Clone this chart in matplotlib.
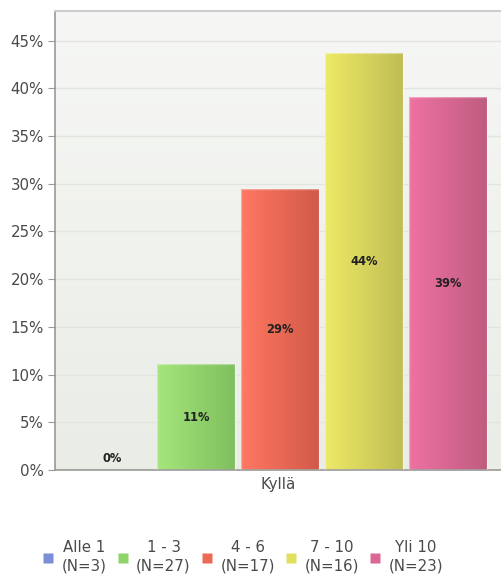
import numpy as np
import matplotlib
matplotlib.use("Agg")
import matplotlib.pyplot as plt
from matplotlib.colors import LinearSegmentedColormap
from matplotlib.ticker import FuncFormatter, MultipleLocator

plt.rcParams["font.family"] = ["DejaVu Sans"]

# ryhmät ja osuudet (%)
ryhmat = ["Alle 1", "1 - 3", "4 - 6", "7 - 10", "Yli 10"]
n_arvot = [3, 27, 17, 16, 23]
osuudet = [0.0, 11.1, 29.4, 43.75, 39.1]
kategoria = "Kyllä"

# värit: vasen (vaalea) ja oikea (tumma) reuna
vari_vasen = ["#8a9ce0", "#a5e67c", "#ff7862", "#eeea66", "#ee72a2"]
vari_oikea = ["#6f82c8", "#7fbf5e", "#d25a48", "#c0bd55", "#c05c80"]
vari_selite = ["#7b8fd6", "#8fd46a", "#ec6a55", "#e2df5e", "#dd6794"]

fig = plt.figure(figsize=(5.01, 5.77), dpi=100)
ax = fig.add_axes([55 / 501, 107 / 577, 446 / 501, 459 / 577])

ymax = 48.1
ax.set_xlim(0, 1)
ax.set_ylim(0, ymax)

# taustan liukuväri
tausta = LinearSegmentedColormap.from_list("tausta", ["#eaede6", "#f6f7f5"])
ax.imshow(np.linspace(0, 1, 256).reshape(-1, 1), cmap=tausta, aspect="auto",
          extent=[0, 1, 0, ymax], origin="lower", zorder=0)

for y in np.arange(5, 46, 5):
    ax.axhline(y, color="#e2e4e0", lw=1, zorder=1)

leveys = 78 / 446
vali = 84 / 446
keski = 0.5 + 2 / 446
for i, (arvo, v1, v2) in enumerate(zip(osuudet, vari_vasen, vari_oikea)):
    x0 = keski + (i - 2) * vali - leveys / 2
    bars = ax.bar(x0, arvo, width=leveys, align="edge", color="none",
                  edgecolor="none", zorder=2)
    if arvo > 0:
        cmap = LinearSegmentedColormap.from_list(f"c{i}", [v1, v2])
        im = ax.imshow(np.linspace(0, 1, 256).reshape(1, -1), cmap=cmap,
                       aspect="auto", extent=[x0, x0 + leveys, 0, arvo], zorder=2)
        im.set_clip_path(bars[0])
        ax.bar(x0, arvo, width=leveys, align="edge", color="none",
               edgecolor=(1, 1, 1, 0.35), lw=1, zorder=3)
    ty = arvo / 2 if arvo > 0 else 1.2
    ax.text(x0 + leveys / 2, ty, f"{arvo:.0f}%", ha="center", va="center",
            fontsize=8.3, fontweight="bold", color="#222222", zorder=4)

ax.yaxis.set_major_locator(MultipleLocator(5))
ax.yaxis.set_major_formatter(FuncFormatter(lambda v, p: f"{v:.0f}%"))
ax.tick_params(axis="y", length=5, color="#999999", labelcolor="#4a4a4a",
               labelsize=10.8, pad=3)
ax.set_xticks([0.5])
ax.set_xticklabels([kategoria])
ax.tick_params(axis="x", length=0, labelcolor="#4a4a4a", labelsize=10.8, pad=5)

for s in ["left", "bottom"]:
    ax.spines[s].set_color("#999999")
    ax.spines[s].set_linewidth(1.2)
ax.spines["top"].set_color("#cccccc")
ax.spines["top"].set_linewidth(1.5)
ax.spines["right"].set_visible(False)

kahvat = [plt.Line2D([], [], marker="s", ls="none", markersize=6.5,
                     markerfacecolor=c, markeredgecolor="none") for c in vari_selite]
nimet = [f"{r}\n(N={n})" for r, n in zip(ryhmat, n_arvot)]
leg = fig.legend(kahvat, nimet, loc="center", bbox_to_anchor=(243 / 501, 1 - 557 / 577),
                 ncol=5, frameon=False, fontsize=10.8, handlelength=0.7,
                 handletextpad=0.55, columnspacing=0.72, labelcolor="#4a4a4a")
for t in leg.get_texts():
    t.set_ha("center")
    t.set_multialignment("center")
    t.set_linespacing(1.25)

fig.savefig("out.png", dpi=100)
